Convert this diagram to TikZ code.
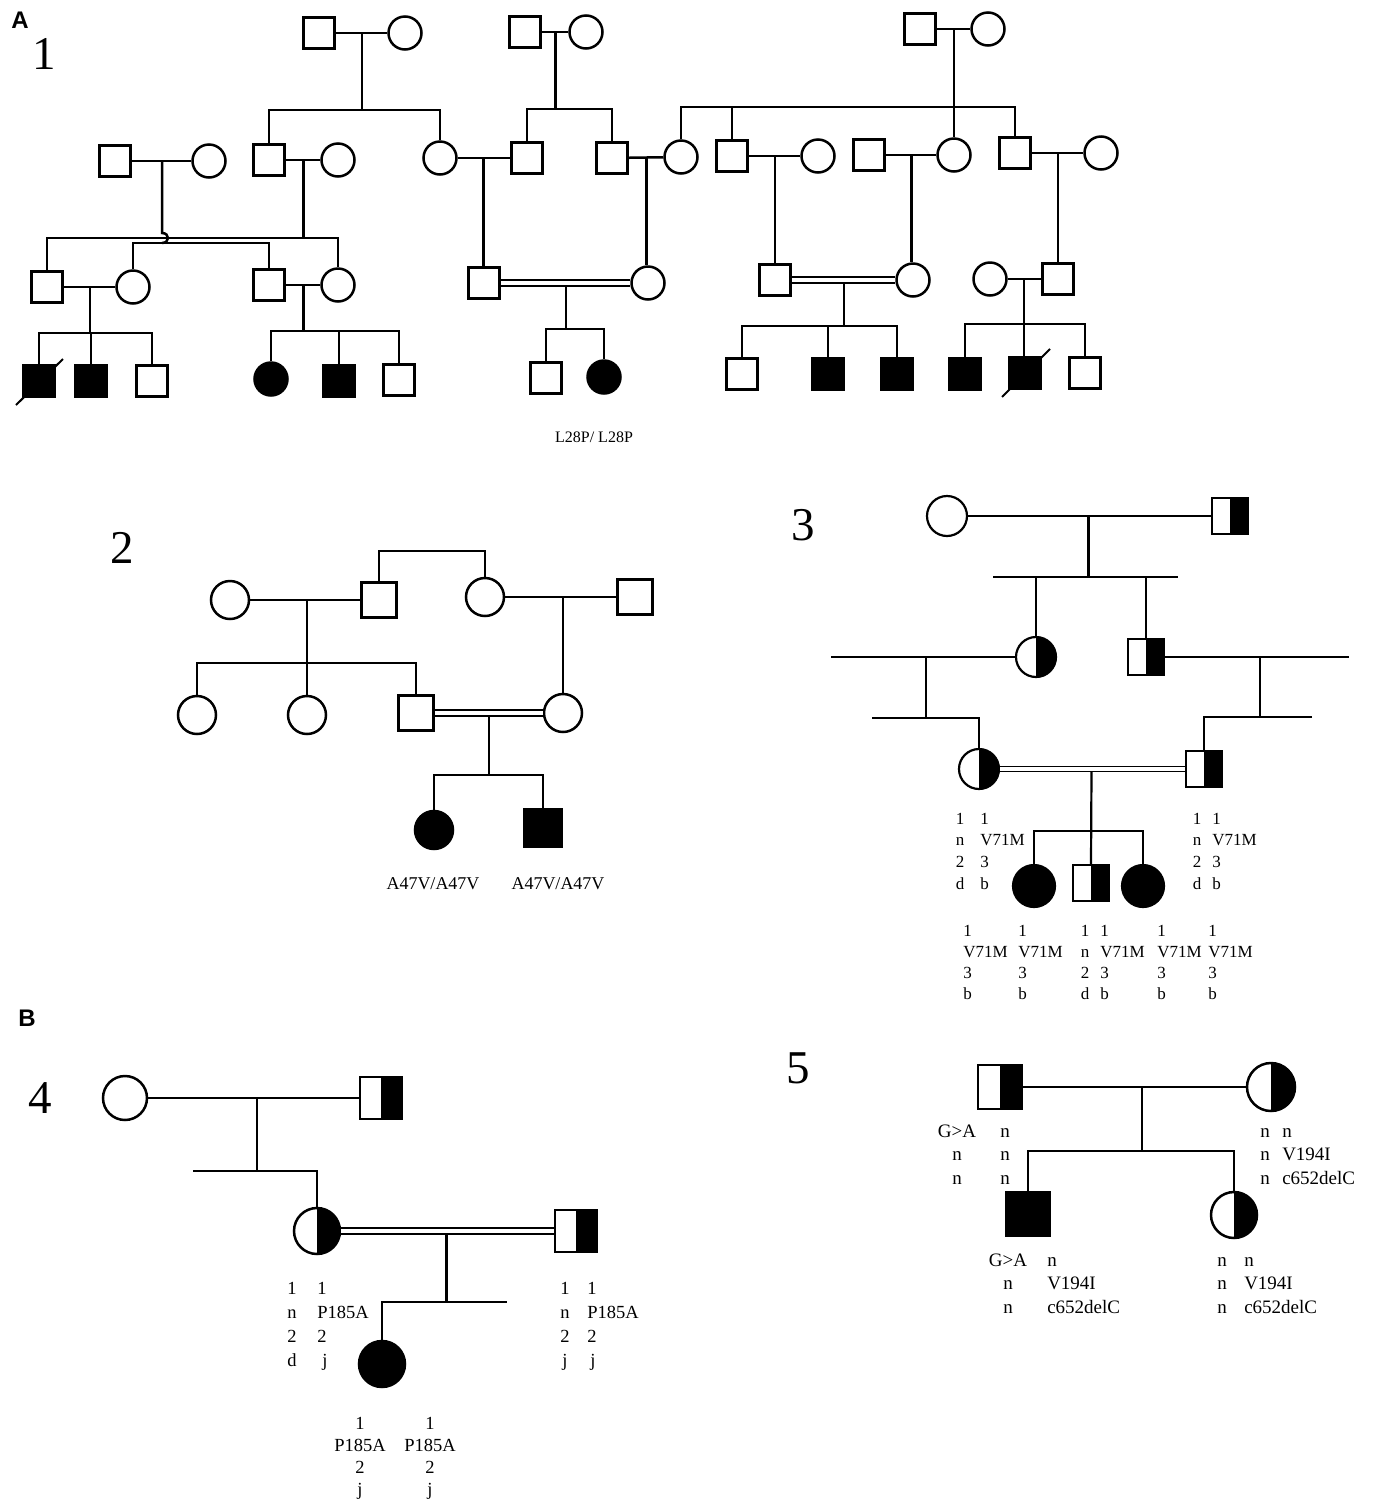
\documentclass[tikz,border=0pt]{standalone}
\usepackage{fontspec}
\setmainfont{Liberation Serif}
\newfontfamily\lblfont{Liberation Sans}
\usetikzlibrary{calc}
\newcommand\gcol[7]{\foreach \gtxt [count=\i from 0] in {#7} {\node[gtext=#6,anchor=#5] (#1\i) at (#2,{#3+#4*\i}) {\gtxt};}}
\newcommand\sibline[3]{\draw (#1.north) -- (#1.north |- #3) -- (#2.north |- #3) -- (#2.north);}
\begin{document}
\begin{tikzpicture}[x=1pt,y=-1pt,line width=2.5pt,
 sq/.style={draw,rectangle,minimum size=#1,inner sep=0pt,fill=white},
 sq/.default=31,
 ci/.style={draw,circle,minimum size=#1,inner sep=0pt,fill=white},
 ci/.default=33,
 aff/.style={fill=black},
 half/.style={path picture={\fill[black] (path picture bounding box.north) rectangle (path picture bounding box.south east);}},
 dbl/.style={double,double distance=3.2pt,line width=2pt},
 gtext/.style={inner sep=0pt,font=\fontsize{#1}{#1}\selectfont},
 big/.style={inner sep=0pt,font=\fontsize{47}{50}\selectfont},
 panel/.style={inner sep=0pt,font=\lblfont\fontsize{24}{26}\selectfont\bfseries},
]
\fill[white] (0,0) rectangle (1374,1508);
\useasboundingbox (0,0) rectangle (1374,1508);

% ---------- labels ----------
\node[panel] (lA) at (20,20) {A};
\node[panel] (lB) at (27,1018) {B};
\node[big] (n1) at (44,54) {1};
\node[big] (n2) at (122,548) {2};
\node[big] (n3) at (803,525) {3};
\node[big] (n4) at (40,1098) {4};
\node[big] (n5) at (798,1068) {5};

% ---------- pedigree 1 ----------
\node[sq] (p1a) at (319,33) {};
\node[ci] (p1b) at (405,33) {};
\node[sq] (p1c) at (525,32) {};
\node[ci] (p1d) at (586,32) {};
\node[sq] (p1e) at (920,29) {};
\node[ci] (p1f) at (988,29) {};

\node[sq] (p2a) at (115,161) {};
\node[ci] (p2b) at (209,161) {};
\node[sq] (p2c) at (269,160) {};
\node[ci] (p2d) at (338,160) {};
\node[ci] (p2e) at (440,158) {};
\node[sq] (p2f) at (527,158) {};
\node[sq] (p2g) at (612,158) {};
\node[ci] (p2h) at (681,157) {};
\node[sq] (p2i) at (732,156) {};
\node[ci] (p2j) at (818,156) {};
\node[sq] (p2k) at (869,155) {};
\node[ci] (p2l) at (954,155) {};
\node[sq] (p2m) at (1015,153) {};
\node[ci] (p2n) at (1101,153) {};

\node[sq] (p3a) at (47,287) {};
\node[ci] (p3b) at (133,287) {};
\node[sq] (p3c) at (269,285) {};
\node[ci] (p3d) at (338,285) {};
\node[sq] (p3e) at (484,283) {};
\node[ci] (p3f) at (648,283) {};
\node[sq] (p3g) at (775,280) {};
\node[ci] (p3h) at (913,280) {};
\node[ci] (p3i) at (990,279) {};
\node[sq] (p3j) at (1058,279) {};

\node[sq,aff] (p4a) at (39,381) {};
\node[sq,aff] (p4b) at (91,381) {};
\node[sq] (p4c) at (152,381) {};
\node[ci,aff] (p4d) at (271,379) {};
\node[sq,aff] (p4e) at (339,381) {};
\node[sq] (p4f) at (399,380) {};
\node[sq] (p4g) at (546,378) {};
\node[ci,aff] (p4h) at (604,377) {};
\node[sq] (p4i) at (742,374) {};
\node[sq,aff] (p4j) at (828,374) {};
\node[sq,aff] (p4k) at (897,374) {};
\node[sq,aff] (p4l) at (965,374) {};
\node[sq,aff] (p4m) at (1025,373) {};
\node[sq] (p4n) at (1085,373) {};

% marriages
\draw (p1a) -- (p1b);
\draw (p1c) -- (p1d);
\draw (p1e) -- (p1f);
\draw (p2a) -- (p2b);
\draw (p2c) -- (p2d);
\draw (p2e) -- (p2f);
\draw (p2g) -- (p2h);
\draw (p2i) -- (p2j);
\draw (p2k) -- (p2l);
\draw (p2m) -- (p2n);
\draw (p3a) -- (p3b);
\draw (p3c) -- (p3d);
\draw[dbl] (p3e) -- (p3f);
\draw[dbl] (p3g) -- (p3h);
\draw (p3i) -- (p3j);

\coordinate (m1) at ($(p1a)!0.5!(p1b)$);
\coordinate (m2) at ($(p1c)!0.5!(p1d)$);
\coordinate (m3) at ($(p1e)!0.5!(p1f)$);
\coordinate (s1) at (0,110);
\coordinate (s2) at (0,109);
\coordinate (s3) at (0,107);
\draw (m1) -- (m1 |- s1);
\sibline{p2c}{p2e}{s1}
\draw (m2) -- (m2 |- s2);
\sibline{p2f}{p2g}{s2}
\draw (m3) -- (p2l.north);
\sibline{p2h}{p2m}{s3}
\draw (p2i.north) -- (p2i.north |- s3);

\coordinate (m4) at ($(p2a)!0.5!(p2b)$);
\coordinate (m5) at ($(p2c)!0.5!(p2d)$);
\coordinate (m6) at ($(p2e)!0.5!(p2f)$);
\coordinate (m7) at ($(p2g)!0.5!(p2h)$);
\coordinate (m8) at ($(p2i)!0.5!(p2j)$);
\coordinate (m9) at ($(p2k)!0.5!(p2l)$);
\coordinate (m10) at ($(p2m)!0.5!(p2n)$);
\coordinate (s4) at (0,238);
\coordinate (s5) at (0,243);
\draw (m5) -- (m5 |- s4);
\sibline{p3a}{p3d}{s4}
\draw (m4) -- ($(m4 |- s4)+(0,-5)$) .. controls +(8,0) and +(8,0) .. ($(m4 |- s4)+(0,5)$) -- (m4 |- s5);
\sibline{p3b}{p3c}{s5}
\draw (m6) -- (m6 |- p3e.north);
\draw (m7) -- (m7 |- p3f.north);
\draw (m8) -- (m8 |- p3g.north);
\draw (m9) -- (m9 |- p3h.north);
\draw (m10) -- (m10 |- p3j.north);

\coordinate (m11) at ($(p3a)!0.5!(p3b)$);
\coordinate (m12) at ($(p3c)!0.5!(p3d)$);
\coordinate (m13) at ($(p3e)!0.5!(p3f)+(0,3)$);
\coordinate (m14) at ($(p3g)!0.5!(p3h)+(0,3)$);
\coordinate (m15) at ($(p3i)!0.5!(p3j)$);
\coordinate (s6) at (0,333);
\coordinate (s7) at (0,331);
\coordinate (s8) at (0,329);
\coordinate (s9) at (0,326);
\coordinate (s10) at (0,324);
\draw (m11) -- (m11 |- s6);
\sibline{p4a}{p4c}{s6}
\draw (p4b.north) -- (p4b.north |- s6);
\draw (m12) -- (m12 |- s7);
\sibline{p4d}{p4f}{s7}
\draw (p4e.north) -- (p4e.north |- s7);
\draw (m13) -- (m13 |- s8);
\sibline{p4g}{p4h}{s8}
\draw (m14) -- (m14 |- s9);
\sibline{p4i}{p4k}{s9}
\draw (p4j.north) -- (p4j.north |- s9);
\draw (m15) -- (m15 |- p4m.north);
\sibline{p4l}{p4n}{s10}

\draw[line width=2pt] ($(p4a)+(-23,24)$) -- ($(p4a)+(24,-22)$);
\draw[line width=2pt] ($(p4m)+(-23,24)$) -- ($(p4m)+(25,-24)$);

\node[gtext=16] (g1) at (594,437) {L28P/ L28P};

% ---------- pedigree 2 ----------
\node[ci=38] (q1) at (230,600) {};
\node[sq=35] (q2) at (379,600) {};
\node[ci=38] (q3) at (485,597) {};
\node[sq=35] (q4) at (635,597) {};
\node[ci=38] (q5) at (197,715) {};
\node[ci=38] (q6) at (307,715) {};
\node[sq=35] (q7) at (416,713) {};
\node[ci=38] (q8) at (563,713) {};
\node[ci=38,aff] (q9) at (434,830) {};
\node[sq=37,aff] (q10) at (543,828) {};

\coordinate (u0) at (0,551);
\sibline{q2}{q3}{u0}
\draw (q1) -- (q2);
\draw (q3) -- (q4);
\coordinate (n21) at (307,600);
\coordinate (u1) at (0,663);
\draw (n21) -- (q6.north);
\sibline{q5}{q7}{u1}
\coordinate (n22) at (563,597);
\draw (n22) -- (q8.north);
\draw[dbl] (q7) -- (q8);
\coordinate (n23) at (489,716);
\coordinate (u2) at (0,775);
\draw (n23) -- (n23 |- u2);
\sibline{q9}{q10}{u2}
\node[gtext=18,anchor=base] (q9l) at (433,889) {A47V/A47V};
\node[gtext=18,anchor=base] (q10l) at (558,889) {A47V/A47V};

% ---------- pedigree 3 ----------
\begin{scope}[line width=2.2pt]
\node[ci=40] (r1) at (947,516) {};
\node[sq=36,half] (r2) at (1230,516) {};
\node[ci=40,half] (r3) at (1036,657) {};
\node[sq=36,half] (r4) at (1146,657) {};
\node[ci=40,half] (r5) at (979,769) {};
\node[sq=36,half] (r6) at (1204,769) {};
\node[ci=42,aff] (r7) at (1034,886) {};
\node[sq=36,half] (r8) at (1091,883) {};
\node[ci=42,aff] (r9) at (1143,886) {};

\draw (r1) -- (r2);
\coordinate (v1) at ($(r1)!0.5!(r2)$);
\coordinate (v1l) at (993,577);
\coordinate (v1r) at (1178,577);
\draw (v1l) -- (v1r);
\draw (v1) -- (v1 |- v1l);
\draw (r3.north) -- (r3.north |- v1l);
\draw (r4.north) -- (r4.north |- v1l);
\coordinate (w1) at (831,657);
\draw (r3) -- (w1);
\coordinate (w2) at (926,657);
\coordinate (w3) at (872,718);
\draw (w2) -- (w2 |- w3);
\draw (w3) -- (r5.north |- w3) -- (r5.north);
\coordinate (x1) at (1349,657);
\draw (r4) -- (x1);
\coordinate (x2) at (1260,657);
\coordinate (x3) at (1312,717);
\draw (x2) -- (x2 |- x3);
\draw (x3) -- (r6.north |- x3) -- (r6.north);
\draw[dbl,line width=1.8pt] (r5) -- (r6);
\coordinate (v2) at ($(r5)!0.5!(r6)+(0,3)$);
\coordinate (v3) at (0,831);
\draw (v2) -- (r8.north);
\sibline{r7}{r9}{v3}
\end{scope}

\gcol{la}{960}{824}{21.7}{base}{17}{1,n,2,d}
\gcol{lb}{979}{824}{21.7}{base west}{17}{1,V71M,3,b}
\gcol{lc}{1197}{824}{21.7}{base}{17}{1,n,2,d}
\gcol{ld}{1211}{824}{21.7}{base west}{17}{1,V71M,3,b}
\gcol{le}{962}{936}{21}{base west}{17}{1,V71M,3,b}
\gcol{lf}{1017}{936}{21}{base west}{17}{1,V71M,3,b}
\gcol{lg}{1085}{936}{21}{base}{17}{1,n,2,d}
\gcol{lh}{1099}{936}{21}{base west}{17}{1,V71M,3,b}
\gcol{li}{1156}{936}{21}{base west}{17}{1,V71M,3,b}
\gcol{lj}{1207}{936}{21}{base west}{17}{1,V71M,3,b}

% ---------- pedigree 4 ----------
\node[ci=44] (s1) at (125,1098) {};
\node[sq=42,half] (s2) at (381,1098) {};
\node[ci=46,half] (s3) at (317,1231) {};
\node[sq=42,half] (s4) at (576,1231) {};
\node[ci=46,aff] (s5) at (382,1364) {};

\draw (s1) -- (s2);
\coordinate (y1) at (257,1098);
\coordinate (y2) at (193,1171);
\draw (y1) -- (y1 |- y2);
\draw (y2) -- (s3.north |- y2) -- (s3.north);
\draw[dbl] (s3) -- (s4);
\coordinate (y3) at ($(s3)!0.5!(s4)+(0,3)$);
\coordinate (y4) at (507,1302);
\draw (y3) -- (y3 |- y4);
\draw (s5.north) -- (s5.north |- y4) -- (y4);

\gcol{ka}{292}{1294}{24}{base}{18.5}{1,n,2,d}
\gcol{kb}{316}{1294}{24}{base west}{18.5}{1,P185A,2,\hspace{5pt}j}
\gcol{kc}{565}{1294}{24}{base}{18.5}{1,n,2,j}
\gcol{kd}{586}{1294}{24}{base west}{18.5}{1,P185A,2,\hspace{3pt}j}
\gcol{ke}{360}{1429}{22.3}{base}{18.5}{1,P185A,2,j}
\gcol{kf}{430}{1429}{22.3}{base}{18.5}{1,P185A,2,j}

% ---------- pedigree 5 ----------
\node[sq=44,half] (t1) at (1000,1087) {};
\node[ci=48,half] (t2) at (1271,1087) {};
\node[sq=44,aff] (t3) at (1028,1214) {};
\node[ci=46,half] (t4) at (1234,1215) {};

\draw (t1) -- (t2);
\coordinate (z1) at (1142,1087);
\coordinate (z2) at (0,1151);
\draw (z1) -- (z1 |- z2);
\sibline{t3}{t4}{z2}

\gcol{ja}{957}{1137}{23.5}{base}{19}{G>A,n,n}
\gcol{jb}{1005}{1137}{23.5}{base}{19}{n,n,n}
\gcol{jc}{1265}{1137}{23.5}{base}{19}{n,n,n}
\gcol{jd}{1281}{1137}{23.5}{base west}{19}{n,V194I,c652delC}
\gcol{je}{1008}{1266}{23.5}{base}{19}{G>A,n,n}
\gcol{jf}{1046}{1266}{23.5}{base west}{19}{n,V194I,c652delC}
\gcol{jg}{1222}{1266}{23.5}{base}{19}{n,n,n}
\gcol{jh}{1243}{1266}{23.5}{base west}{19}{n,V194I,c652delC}
\end{tikzpicture}
\end{document}
